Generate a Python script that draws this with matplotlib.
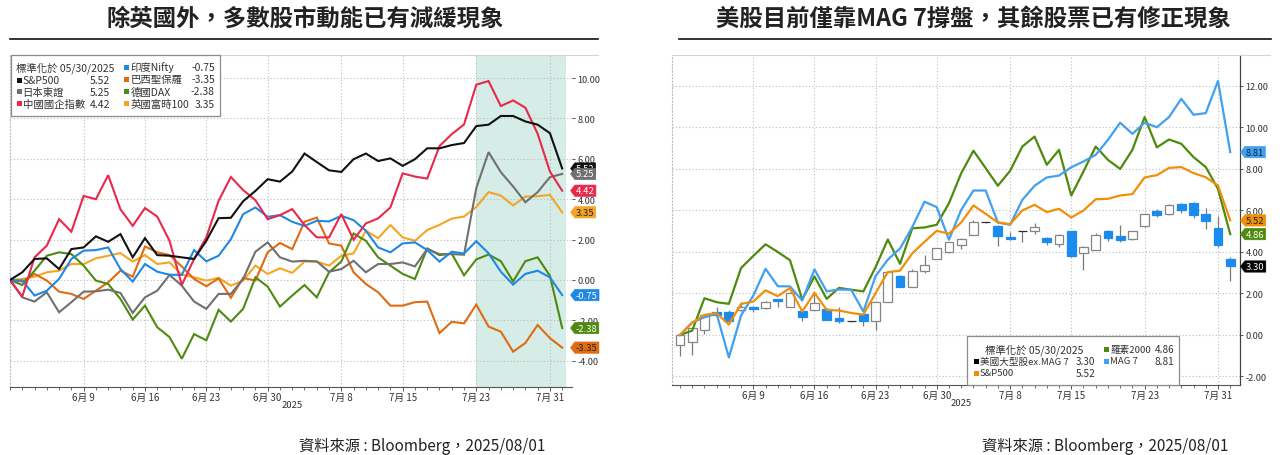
import numpy as np
import matplotlib
matplotlib.use('Agg')
import matplotlib.pyplot as plt
from matplotlib.path import Path
from matplotlib.patches import Rectangle
from matplotlib.lines import Line2D

plt.rcParams['font.family'] = ['Noto Sans CJK TC', 'DejaVu Sans']

# ------------------------------------------------------------------ data
n_days = 46  # trading days 2025/05/30 .. 2025/08/01
tick_idx = [6, 11, 16, 21, 27, 32, 38, 44]
tick_labels = ['6月 9', '6月 16', '6月 23', '6月 30', '7月 8', '7月 15', '7月 23', '7月 31']
year_label = '2025'
year_idx = 23
shade_start = 38

left_title = '除英國外，多數股市動能已有減緩現象'
right_title = '美股目前僅靠MAG 7撐盤，其餘股票已有修正現象'
source_text = '資料來源 : Bloomberg，2025/08/01'
legend_header = '標準化於 05/30/2025'

spx = [0, 0.38, 1.04, 1.07, 0.54, 1.53, 1.61, 2.16, 1.89, 2.27, 1.12, 2.07, 1.23, 1.20, 1.12, 1.04,
       1.94, 3.06, 3.08, 3.90, 4.41, 4.99, 4.87, 5.37, 6.26, 5.84, 5.43, 5.35, 5.98, 6.26, 5.89, 6.02,
       5.65, 5.98, 6.52, 6.52, 6.68, 6.78, 7.62, 7.69, 8.12, 8.12, 7.85, 7.69, 7.27, 5.52]
topix = [0, -0.86, -1.07, -0.61, -1.60, -1.10, -0.58, -0.56, -0.48, -0.64, -1.63, -0.86, -0.53, 0.25,
         -0.28, -1.07, -1.43, -0.69, -0.69, 0.05, 1.40, 1.86, 1.12, 0.91, 0.95, 0.92, 0.41, 0.54, 0.95,
         0.38, 0.79, 0.79, 0.87, 0.67, 1.53, 1.28, 1.28, 1.25, 4.55, 6.33, 5.34, 4.63, 3.85, 4.35, 5.09, 5.25]
hscei = [0, -0.82, 1.12, 1.70, 3.01, 2.39, 4.16, 4.00, 5.19, 3.50, 2.68, 3.56, 3.14, 1.94, -0.25, 1.04,
         2.11, 3.92, 5.10, 4.45, 3.95, 3.01, 3.21, 3.51, 2.72, 2.11, 2.11, 3.26, 1.99, 2.80, 3.05, 3.59,
         5.28, 5.12, 5.02, 6.63, 7.22, 7.70, 9.67, 9.85, 8.61, 8.89, 8.53, 7.24, 5.37, 4.42]
nifty = [0, -0.03, -0.77, -0.53, 0.05, 1.04, 1.45, 1.48, 1.61, 0.54, -0.08, 0.79, 0.41, 0.26, 0.25, 1.48,
         0.92, 1.20, 2.02, 3.26, 3.59, 3.13, 3.21, 2.88, 2.68, 2.93, 2.90, 3.18, 2.96, 2.44, 1.61, 1.37,
         1.81, 1.86, 1.48, 0.91, 1.40, 1.31, 1.92, 1.32, 0.41, -0.23, 0.30, 0.46, 0.13, -0.75]
ibov = [0, -0.08, 0.30, -0.03, -0.58, -0.69, -0.94, -0.53, -0.12, 0.46, 0.16, 1.66, 1.37, 1.23, 0.67, 0.05,
        -0.31, 0.08, -0.88, 0.10, -0.03, 1.37, 1.83, 1.53, 2.88, 3.09, 1.81, 1.70, 0.38, -0.20, -0.61, -1.27,
        -1.27, -1.10, -1.07, -2.63, -2.07, -2.15, -1.22, -2.31, -2.56, -3.55, -3.12, -2.23, -2.88, -3.35]
dax = [0, -0.25, 0.46, 1.20, 1.37, 1.28, 0.71, -0.03, -0.20, -0.94, -1.96, -1.27, -2.34, -2.83, -3.90, -2.68,
       -2.99, -1.48, -2.06, -1.43, 0.13, -0.33, -1.32, -0.77, -0.25, -0.86, 0.38, 0.91, 2.30, 1.94, 1.12, 0.71,
       0.30, 0.05, 1.56, 1.23, 1.30, 0.23, 1.02, 1.26, 0.93, -0.07, 0.93, 1.12, 0.21, -2.38]
ftse = [0, 0.05, 0.16, 0.38, 0.46, 0.79, 0.79, 1.07, 1.20, 1.33, 0.91, 1.23, 0.79, 0.87, 0.26, 0.13,
        -0.03, 0.10, -0.28, -0.03, 0.71, 0.30, 0.58, 0.35, 0.91, 0.91, 0.71, 1.20, 1.32, 2.44, 2.07, 2.72,
        2.11, 1.94, 2.47, 2.73, 3.04, 3.14, 3.62, 4.35, 4.18, 3.69, 4.13, 4.15, 4.21, 3.35]

left_names = ['S&P500', '日本東證', '中國國企指數', '印度Nifty', '巴西聖保羅', '德國DAX', '英國富時100']
left_series = [spx, topix, hscei, nifty, ibov, dax, ftse]
left_colors = ['#111111', '#707070', '#e8294c', '#1e88e5', '#e06b12', '#4f8a10', '#f5a524']
left_tag_text = ['white', 'white', 'white', 'white', '#222222', 'white', '#222222']

r2000 = [0, 0.21, 1.77, 1.58, 1.50, 3.23, 3.81, 4.37, 4.00, 3.60, 1.71, 2.82, 1.74, 2.27, 2.18, 2.10,
         3.27, 4.60, 3.43, 5.14, 5.18, 5.31, 6.35, 7.79, 8.88, 8.04, 7.19, 7.91, 9.08, 9.56, 8.20, 8.92,
         6.72, 7.88, 9.08, 8.44, 8.00, 8.92, 10.50, 9.04, 9.42, 9.21, 8.57, 8.09, 7.04, 4.86]
mag7 = [0, 0.61, 0.85, 1.02, -1.08, 0.94, 1.90, 3.19, 2.35, 2.34, 1.66, 3.16, 2.10, 2.19, 2.18, 1.13,
        2.84, 3.63, 4.17, 5.20, 6.42, 6.16, 4.59, 6.03, 6.96, 6.96, 5.42, 5.31, 6.51, 7.19, 7.59, 7.68,
        8.08, 8.36, 8.68, 9.40, 10.23, 9.69, 10.23, 10.01, 10.50, 11.38, 10.61, 10.69, 12.24, 8.81]
spx_r = [0, 0.58, 0.97, 1.05, 0.50, 1.50, 1.61, 2.15, 1.87, 2.26, 1.13, 2.03, 1.21, 1.18, 1.06, 0.98,
         2.02, 3.03, 3.10, 3.93, 4.49, 5.02, 4.88, 5.42, 6.24, 5.84, 5.42, 5.34, 6.00, 6.27, 5.92, 6.08,
         5.66, 6.00, 6.54, 6.56, 6.72, 6.79, 7.59, 7.70, 8.05, 8.09, 7.80, 7.60, 7.20, 5.52]

# 美國大型股ex.MAG 7 candles
ex_open = [-0.50, -0.35, 0.26, 1.10, 1.13, 1.18, 1.37, 1.29, 1.71, 1.37, 1.15, 1.21, 1.26, 0.81, 0.65, 1.02,
           0.65, 1.61, 2.82, 2.31, 3.06, 3.66, 3.98, 4.35, 4.83, 5.42, 5.26, 4.72, 4.99, 5.02, 4.67, 4.38,
           4.99, 3.95, 4.11, 5.02, 4.78, 4.64, 5.23, 5.95, 5.84, 6.32, 6.37, 5.84, 5.14, 3.67]
ex_close = [0.00, 0.32, 0.97, 0.95, 0.65, 1.37, 1.23, 1.61, 1.63, 2.02, 0.85, 1.55, 0.74, 0.65, 0.66, 0.65,
            1.58, 3.03, 2.31, 3.06, 3.35, 4.19, 4.46, 4.62, 5.42, 5.43, 4.75, 4.64, 5.00, 5.18, 4.46, 4.83,
            3.79, 4.22, 4.83, 4.67, 4.56, 4.99, 5.84, 5.76, 6.24, 6.00, 5.76, 5.47, 4.34, 3.30]
ex_high = [0.00, 0.35, 1.00, 1.35, 1.20, 1.60, 1.40, 1.65, 1.75, 2.05, 1.20, 1.98, 1.30, 1.34, 0.68, 1.05,
           1.60, 3.10, 2.90, 3.19, 3.87, 4.20, 4.50, 4.65, 5.55, 5.44, 5.30, 4.94, 5.01, 5.39, 4.70, 4.85,
           5.00, 4.30, 4.91, 5.05, 5.28, 5.00, 5.90, 6.08, 6.32, 6.38, 6.40, 6.13, 5.71, 3.75]
ex_low = [-1.00, -0.95, 0.05, 0.90, 0.60, 1.15, 1.10, 1.25, 1.37, 1.35, 0.65, 1.20, 0.70, 0.60, 0.63, 0.45,
          0.26, 1.60, 2.30, 2.30, 3.00, 3.65, 3.95, 4.14, 4.80, 5.40, 4.27, 4.60, 4.46, 4.88, 4.35, 4.24,
          3.75, 3.15, 4.08, 4.51, 4.50, 4.60, 5.20, 5.70, 5.80, 5.87, 5.63, 5.11, 4.23, 2.62]

right_line_names = ['羅素2000', 'MAG 7', 'S&P500']
right_line_series = [r2000, mag7, spx_r]
right_line_colors = ['#4e8a0e', '#42a0f0', '#f0900a']
right_tag_text = ['white', '#10243a', '#222222']
candle_name = '美國大型股ex.MAG 7'
candle_color = '#000000'
candle_down = '#1a8cf0'

# ------------------------------------------------------------------ helpers
W, H = 1283, 456


def fx(x):
    return x / W


def fy(y):
    return 1 - y / H


def tag_box(x0, y0, width, height, mutation_size):
    pad = 0.12 * mutation_size
    x0, y0 = x0 - pad, y0 - pad
    w, h = width + 2 * pad, height + 2 * pad
    tip = 0.38 * h
    verts = [(x0, y0), (x0 + w, y0), (x0 + w, y0 + h), (x0, y0 + h),
             (x0 - tip, y0 + h / 2), (x0, y0), (x0, y0)]
    codes = [Path.MOVETO] + [Path.LINETO] * 5 + [Path.CLOSEPOLY]
    return Path(verts, codes)


def add_tag(ax, val, fc, tc, dx):
    ax.annotate(f'{val:.2f}', xy=(1, val), xycoords=('axes fraction', 'data'),
                xytext=(dx, 0), textcoords='offset pixels', ha='left', va='center',
                fontsize=6.8, color=tc, annotation_clip=False, zorder=6,
                bbox=dict(boxstyle=tag_box, fc=fc, ec=fc, lw=0.5))


def style_axes(ax, xlo, xhi, ylo, yhi, yticks):
    ax.set_xlim(xlo, xhi)
    ax.set_ylim(ylo, yhi)
    ax.set_xticks(tick_idx)
    ax.set_xticklabels(tick_labels)
    ax.set_xticks(range(n_days), minor=True)
    ax.set_yticks(yticks)
    ax.set_yticklabels([f'{v:.2f}' for v in yticks])
    ax.yaxis.tick_right()
    ax.grid(True, which='major', linestyle=(0, (1, 2)), color='#bcbcbc', lw=0.8)
    ax.tick_params(axis='x', which='major', length=3, width=0.7, color='#555555',
                   labelsize=7, labelcolor='#333333', pad=0.5)
    ax.tick_params(axis='x', which='minor', length=2, width=0.6, color='#555555')
    ax.tick_params(axis='y', which='major', length=2, width=0.7, color='#555555',
                   labelsize=6.6, labelcolor='#333333', pad=2)
    for s in ['top', 'right']:
        ax.spines[s].set_visible(False)
    ax.spines['left'].set_linestyle((0, (1, 2)))
    ax.spines['left'].set_color('#bcbcbc')
    ax.spines['left'].set_linewidth(0.8)
    ax.spines['bottom'].set_color('#555555')
    ax.spines['bottom'].set_linewidth(0.8)
    ax.annotate(year_label, xy=(year_idx, 0), xycoords=('data', 'axes fraction'),
                xytext=(0, -18), textcoords='offset pixels', ha='center', va='center',
                fontsize=6.8, color='#333333')


def legend_square(x, y, color):
    fig.add_artist(Rectangle((fx(x), fy(y + 2.5)), 5 / W, 5 / H, transform=fig.transFigure,
                             fc=color, ec='none', zorder=8))


def legend_text(x, y, s, ha='left', size=7.5):
    fig.text(fx(x), fy(y), s, ha=ha, va='center', fontsize=size, color='#333333', zorder=9)


# ------------------------------------------------------------------ figure
fig = plt.figure(figsize=(W / 100, H / 100), dpi=100)

# ---- left chart
axL = fig.add_axes([fx(10), fy(388), (572 - 10) / W, (388 - 56) / H])
style_axes(axL, 0, 45.8, -5.30, 11.14, [-4, -2, 0, 2, 4, 6, 8, 10])
axL.axvspan(shade_start, 45.3, color='#d6ece6', lw=0, zorder=0.5)
x = np.arange(n_days)
draw_order = [6, 4, 5, 1, 3, 2, 0]
for k in draw_order:
    axL.plot(x, left_series[k], color=left_colors[k], lw=1.5, zorder=3, solid_joinstyle='miter')
for k in [0, 1, 2, 6, 3, 5, 4]:
    add_tag(axL, left_series[k][-1], left_colors[k], left_tag_text[k], 4)

# ---- right chart
axR = fig.add_axes([fx(672), fy(386), (1240 - 672) / W, (386 - 56) / H])
style_axes(axR, -0.65, 45.8, -2.41, 13.49, [-2, 0, 2, 4, 6, 8, 10, 12])
axR.spines['right'].set_visible(True)
axR.spines['right'].set_color('#444444')
axR.spines['right'].set_linewidth(0.9)
axR.tick_params(axis='y', length=2.5, pad=1.5)

o = np.array(ex_open)
c = np.array(ex_close)
hi = np.array(ex_high)
lo = np.array(ex_low)
body_lo = np.minimum(o, c)
body_h = np.abs(c - o)
doji = body_h < 0.03
up = (c > o) & ~doji
down = (c < o) & ~doji
axR.vlines(x, lo, hi, color='#7a7a7a', lw=0.9, zorder=2)
axR.bar(x[up], body_h[up], bottom=body_lo[up], width=0.72, color='white',
        edgecolor='#858585', lw=0.9, zorder=2.5)
axR.bar(x[down], body_h[down], bottom=body_lo[down], width=0.72, color=candle_down,
        edgecolor=candle_down, lw=0.9, zorder=2.5)
axR.bar(x[doji], np.full(doji.sum(), 0.02), bottom=body_lo[doji], width=0.72, color='#333333',
        edgecolor='#333333', lw=0.9, zorder=2.5)

for k in range(3):
    axR.plot(x, right_line_series[k], color=right_line_colors[k], lw=1.6, zorder=3)

add_tag(axR, c[-1], candle_color, 'white', 6)
for k in [0, 2, 1]:
    add_tag(axR, right_line_series[k][-1], right_line_colors[k], right_tag_text[k], 6)

# ---- titles, rules, sources
fig.text(fx(305), fy(19), left_title, ha='center', va='center', fontsize=16.8,
         fontweight='bold', color='#222222')
fig.text(fx(973), fy(19), right_title, ha='center', va='center', fontsize=16.8,
         fontweight='bold', color='#222222')
fig.add_artist(Line2D([fx(10), fx(598)], [fy(40), fy(40)], color='#111111', lw=1.2))
fig.add_artist(Line2D([fx(679), fx(1271)], [fy(40), fy(40)], color='#111111', lw=1.2))
fig.add_artist(Line2D([fx(10), fx(598)], [fy(56), fy(56)], color='#d4d4d4', lw=0.8))
fig.add_artist(Line2D([fx(672), fx(1270)], [fy(56), fy(56)], color='#d4d4d4', lw=0.8))
fig.text(fx(422), fy(446), source_text, ha='center', va='center', fontsize=11, color='#222222')
fig.text(fx(1105), fy(446), source_text, ha='center', va='center', fontsize=11, color='#222222')

# ---- left legend
fig.add_artist(Rectangle((fx(11), fy(117)), (220 - 11) / W, (117 - 56) / H,
                         transform=fig.transFigure, fc='white', ec='#8c8c8c', lw=0.9, zorder=7))
legend_text(16, 68, legend_header)
col1 = [0, 1, 2]
col2 = [3, 4, 5, 6]
for r, k in enumerate(col1):
    yy = 81 + r * 11.8
    legend_square(16.5, yy, left_colors[k])
    legend_text(22.5, yy, left_names[k])
    legend_text(110, yy, f'{left_series[k][-1]:.2f}', ha='right')
for r, k in enumerate(col2):
    yy = 68 + r * 12.2
    legend_square(124, yy, left_colors[k])
    legend_text(130.5, yy, left_names[k])
    legend_text(215, yy, f'{left_series[k][-1]:.2f}', ha='right')

# ---- right legend
fig.add_artist(Rectangle((fx(967), fy(386)), (1179 - 967) / W, (386 - 337) / H,
                         transform=fig.transFigure, fc='white', ec='#8c8c8c', lw=0.9, zorder=7))
legend_text(985, 350, legend_header)
rl_col1 = [(candle_name, candle_color, c[-1]), (right_line_names[2], right_line_colors[2], spx_r[-1])]
rl_col2 = [(right_line_names[0], right_line_colors[0], r2000[-1]), (right_line_names[1], right_line_colors[1], mag7[-1])]
for r, (nm, col, v) in enumerate(rl_col1):
    yy = 362 + r * 12
    legend_square(974, yy, col)
    legend_text(980, yy, nm, size=6.9)
    legend_text(1095, yy, f'{v:.2f}', ha='right', size=7.2)
for r, (nm, col, v) in enumerate(rl_col2):
    yy = 350 + r * 12
    legend_square(1104, yy, col)
    legend_text(1110, yy, nm, size=6.9)
    legend_text(1174, yy, f'{v:.2f}', ha='right', size=7.2)

fig.savefig('out.png', dpi=100)
